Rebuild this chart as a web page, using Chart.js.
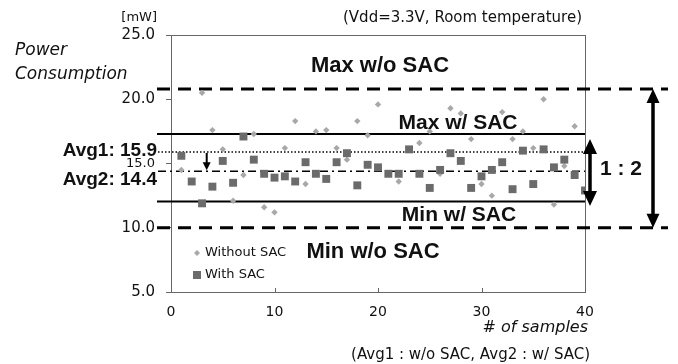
<!DOCTYPE html>
<html>
<head>
<meta charset="utf-8">
<script src="https://cdn.jsdelivr.net/npm/chart.js@4.4.1/dist/chart.umd.min.js"></script>
<style>
  html, body { margin: 0; padding: 0; background: #fff; }
  #wrap { width: 678px; height: 364px; }
</style>
</head>
<body>
<div id="wrap"><canvas id="powerChart" width="678" height="364"></canvas></div>
<script>
// sample index (x) and measured power in mW (y)
const samples = [1, 2, 3, 4, 5, 6, 7, 8, 9, 10,
                 11, 12, 13, 14, 15, 16, 17, 18, 19, 20,
                 21, 22, 23, 24, 25, 26, 27, 28, 29, 30,
                 31, 32, 33, 34, 35, 36, 37, 38, 39, 40];
const withoutSac = [14.5, null, 20.5, 17.6, 16.1, 12.1, 14.1, 17.3, 11.6, 11.2,
                    16.2, 18.3, 13.4, 17.5, 17.6, 16.2, 15.3, 18.3, 17.2, 19.6,
                    14.2, 13.6, null, 16.6, 17.5, 14.2, 19.3, 18.9, 16.9, 13.4,
                    12.5, 19.0, 16.9, 17.5, 16.2, 20.0, 11.8, 14.8, 17.9, null];
const withSac = [15.6, 13.6, 11.9, 13.2, 15.2, 13.5, 17.1, 15.3, 14.2, 13.9,
                 14.0, 13.6, 15.1, 14.2, 13.8, 15.1, 15.8, 13.3, 14.9, 14.7,
                 14.2, 14.2, 16.1, 14.2, 13.1, 14.5, 15.8, 15.2, 13.1, 14.0,
                 14.5, 15.1, 13.0, 16.0, 13.4, 16.1, 14.7, 15.3, 14.1, 12.9];
const yTicks = [5, 10, 15, 20, 25];
const xTicks = [0, 10, 20, 30, 40];

// reference levels (mW)
const maxWoSac = 20.8;
const minWoSac = 10.0;
const maxWSac = 17.3;
const minWSac = 12.05;
const avg1 = 15.9;
const avg2 = 14.4;

const toPoints = (ys) => samples.map((x, i) => ({ x: x, y: ys[i] }));

function hLine(ctx, x1, x2, y, width, dash) {
  ctx.save();
  ctx.strokeStyle = '#000';
  ctx.lineWidth = width;
  ctx.setLineDash(dash);
  ctx.beginPath();
  ctx.moveTo(x1, y);
  ctx.lineTo(x2, y);
  ctx.stroke();
  ctx.restore();
}

function arrowHead(ctx, x, tipY, hw, hh, dir) {
  ctx.beginPath();
  ctx.moveTo(x, tipY);
  ctx.lineTo(x - hw / 2, tipY - dir * hh);
  ctx.lineTo(x + hw / 2, tipY - dir * hh);
  ctx.closePath();
  ctx.fill();
}

// vertical arrow, heads: 'both' or 'down'
function vArrow(ctx, x, yTop, yBot, lw, hw, hh, heads) {
  ctx.save();
  ctx.strokeStyle = '#000';
  ctx.fillStyle = '#000';
  ctx.lineWidth = lw;
  const y1 = heads === 'both' ? yTop + hh - 1 : yTop;
  ctx.beginPath();
  ctx.moveTo(x, y1);
  ctx.lineTo(x, yBot - hh + 1);
  ctx.stroke();
  if (heads === 'both') arrowHead(ctx, x, yTop, hw, hh, -1);
  arrowHead(ctx, x, yBot, hw, hh, 1);
  ctx.restore();
}

function text(ctx, str, x, y, font, align) {
  ctx.font = font;
  ctx.textAlign = align || 'left';
  ctx.textBaseline = 'middle';
  ctx.fillStyle = '#111';
  ctx.fillText(str, x, y);
}

const overlay = {
  id: 'overlay',
  beforeDatasetsDraw(chart) {
    const { ctx, chartArea: a, scales: { x, y } } = chart;
    ctx.save();
    // plot frame
    ctx.strokeStyle = '#666';
    ctx.lineWidth = 1;
    ctx.strokeRect(a.left + 0.5, a.top + 0.5, a.right - a.left, a.bottom - a.top);
    // small inward ticks on x axis
    xTicks.slice(1, -1).forEach(v => {
      const px = Math.round(x.getPixelForValue(v)) + 0.5;
      ctx.beginPath();
      ctx.moveTo(px, a.bottom);
      ctx.lineTo(px, a.bottom - 4);
      ctx.stroke();
    });
    ctx.restore();

    hLine(ctx, a.left - 14, a.right + 83, y.getPixelForValue(maxWoSac), 3, [13, 8]);
    hLine(ctx, a.left - 14, a.right + 83, y.getPixelForValue(minWoSac), 3, [13, 8]);
    hLine(ctx, a.left - 14, a.right, y.getPixelForValue(maxWSac), 2, []);
    hLine(ctx, a.left - 14, a.right, y.getPixelForValue(minWSac), 2, []);
    hLine(ctx, a.left - 13, a.right, y.getPixelForValue(avg1), 1.5, [1.5, 2]);
    hLine(ctx, a.left - 13, a.right, y.getPixelForValue(avg2), 1.5, [8, 4, 2, 4]);
  },
  afterDatasetsDraw(chart) {
    const { ctx, chartArea: a, scales: { x, y } } = chart;
    ctx.save();
    // arrows
    vArrow(ctx, a.right + 68, y.getPixelForValue(maxWoSac), y.getPixelForValue(minWoSac), 3.5, 13, 14, 'both');
    vArrow(ctx, a.right + 5, y.getPixelForValue(16.9), y.getPixelForValue(11.7), 3.5, 14, 15, 'both');
    vArrow(ctx, x.getPixelForValue(3.45), y.getPixelForValue(avg1) + 1, y.getPixelForValue(avg2) - 1, 2, 8, 8, 'down');

    const bold = 'bold 22px "Liberation Sans", Arial, sans-serif';
    const bold21 = 'bold 21px "Liberation Sans", Arial, sans-serif';
    const bold19 = 'bold 19px "Liberation Sans", Arial, sans-serif';
    const light = '15px "DejaVu Sans", sans-serif';

    text(ctx, 'Max w/o SAC', 380, 66, bold, 'center');
    text(ctx, 'Max w/ SAC', 458, 123, bold21, 'center');
    text(ctx, 'Min w/ SAC', 459, 215, bold21, 'center');
    text(ctx, 'Min w/o SAC', 373, 252, bold, 'center');
    text(ctx, '1 : 2', 621, 169, bold21, 'center');

    text(ctx, 'Avg1: 15.9', 157, y.getPixelForValue(avg1) - 1, bold19, 'right');
    text(ctx, 'Avg2: 14.4', 157, y.getPixelForValue(avg2) + 9, bold19, 'right');

    text(ctx, '[mW]', 157, 18, '13px "DejaVu Sans", sans-serif', 'right');
    text(ctx, 'Power', 15, 51, 'italic 17px "DejaVu Sans", sans-serif', 'left');
    text(ctx, 'Consumption', 15, 75, 'italic 17px "DejaVu Sans", sans-serif', 'left');
    text(ctx, '(Vdd=3.3V, Room temperature)', 582, 18, light, 'right');
    text(ctx, '# of samples', 588, 328, 'italic 16px "DejaVu Sans", sans-serif', 'right');
    text(ctx, '(Avg1 : w/o SAC, Avg2 : w/ SAC)', 590, 355, light, 'right');

    // legend
    ctx.fillStyle = '#a8a8a8';
    ctx.beginPath();
    ctx.moveTo(197, 250); ctx.lineTo(200, 253); ctx.lineTo(197, 256); ctx.lineTo(194, 253);
    ctx.closePath();
    ctx.fill();
    ctx.fillStyle = '#6b6b6b';
    ctx.fillRect(193, 271, 8, 8);
    text(ctx, 'Without SAC', 205, 253, '13px "DejaVu Sans", sans-serif', 'left');
    text(ctx, 'With SAC', 205, 275, '13px "DejaVu Sans", sans-serif', 'left');
    ctx.restore();
  }
};

new Chart(document.getElementById('powerChart'), {
  type: 'scatter',
  data: {
    datasets: [
      {
        label: 'With SAC',
        data: toPoints(withSac),
        pointStyle: 'rect',
        pointRadius: 5.6,
        pointBackgroundColor: '#6b6b6b',
        pointBorderWidth: 0,
        order: 0
      },
      {
        label: 'Without SAC',
        data: toPoints(withoutSac),
        pointStyle: 'rectRot',
        pointRadius: 3.2,
        pointBackgroundColor: '#a8a8a8',
        pointBorderWidth: 0,
        order: 1
      }
    ]
  },
  options: {
    responsive: false,
    animation: false,
    layout: { padding: { left: 0, right: 93, top: 35, bottom: 0 } },
    plugins: { legend: { display: false }, tooltip: { enabled: false } },
    scales: {
      x: {
        type: 'linear',
        min: 0,
        max: 40,
        afterBuildTicks: s => { s.ticks = xTicks.map(v => ({ value: v })); },
        afterFit: s => { s.height = 72; },
        grid: { display: false, drawTicks: false },
        border: { display: false },
        ticks: {
          padding: 12,
          color: '#111',
          maxRotation: 0,
          font: { family: '"DejaVu Sans", sans-serif', size: 14 }
        }
      },
      y: {
        min: 5,
        max: 25,
        afterBuildTicks: s => { s.ticks = yTicks.map(v => ({ value: v })); },
        afterFit: s => { s.width = 171; },
        grid: { drawOnChartArea: false, tickLength: 5, color: '#666' },
        border: { display: false },
        ticks: {
          padding: 11,
          color: '#111',
          callback: v => v.toFixed(1),
          font: ctx => ({ family: '"DejaVu Sans", sans-serif', size: ctx.tick && ctx.tick.value === 15 ? 13 : 15 })
        }
      }
    }
  },
  plugins: [overlay]
});
</script>
</body>
</html>
